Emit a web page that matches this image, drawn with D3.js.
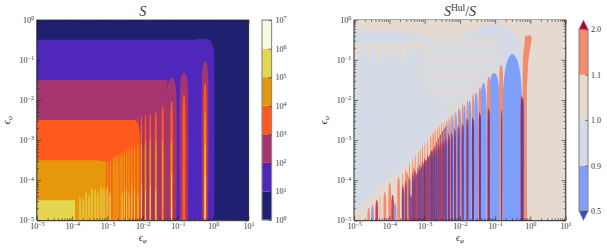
<!DOCTYPE html>
<html>
<head>
<meta charset="utf-8">
<script src="https://cdn.jsdelivr.net/npm/d3@7"></script>
<style>
  html, body { margin: 0; padding: 0; background: #fff; }
  svg { display: block; }
  text { font-family: "Liberation Serif", serif; fill: #333; }
</style>
</head>
<body>
<svg id="svg1" width="607" height="250"></svg>
<script>
// ---- data (exponents are log10 of the value) ----

// contour levels and colours of the two colourbars
var sLevels = [1, 1e1, 1e2, 1e3, 1e4, 1e5, 1e6, 1e7];
var sColors = ["#1f206f", "#4f28bb", "#a5356f", "#ff5a1e", "#e6980c", "#e4d650", "#f8f8dc"];
var ratioLevels = ["0.5", "0.9", "1.0", "1.1", "2.0"];
var ratioColors = ["#7f9ffc", "#d4dbe6", "#e6d9cf", "#f48b6b"];
var ratioUnder = "#3b4cc0", ratioOver = "#b40426", mauve = "#8d5f9e";

// resonance positions in eps_phi
var resPhi = [0.59, 0.148, 0.066, 0.037, 0.0236, 0.0164, 0.012, 0.0092, 0.0073, 0.0059,
  0.0049, 0.0041, 0.0035, 0.003, 0.0026, 0.0023, 0.002, 0.0018, 0.00163, 0.00148,
  0.00122, 0.00102, 0.00087, 0.00075, 0.00066, 0.00054, 0.00046, 0.00037, 0.00029, 0.00024];

// left panel: outline of the 10^1 region
var purplePhi = [1e-5, 0.126, 0.28, 0.5, 0.71, 0.83, 0.95, 1.07, 1.08, 1.08, 1e-5];
var purplePsi = [0.316, 0.316, 0.32, 0.34, 0.33, 0.30, 0.25, 0.16, 0.1, 1e-5, 1e-5];
// left panel: solid parts of the higher levels
var crimsonPhi = [1e-5, 0.05, 0.05, 1e-5], crimsonPsi = [0.0316, 0.0316, 1e-5, 1e-5];
var orangePhi = [1e-5, 0.0063, 0.0078, 0.0085, 0.0085, 1e-5];
var orangePsi = [0.00316, 0.00316, 0.0022, 0.0012, 1e-5, 1e-5];
var goldPhi = [1e-5, 0.0005, 0.0009, 0.0009, 1e-5];
var goldPsi = [0.000316, 0.000316, 0.00028, 1e-5, 1e-5];
var yellowPhi = [1e-5, 0.00012, 0.00012, 1e-5];
var yellowPsi = [3.16e-5, 3.16e-5, 1e-5, 1e-5];

// left panel: height of each level along the resonances
var crimsonTop = [-1.02, -1.31, -1.44];
var crimsonHalf = [0.085, 0.11, 0.13];
var orangeTop = [-1.55, -1.85, -2.02, -2.14, -2.26, -2.31, -2.34, -2.39, -2.44, -2.47];
var orangeHalf = [0.035, 0.04, 0.032, 0.028, 0.026, 0.024, 0.022, 0.02, 0.018, 0.016];
var goldTop = [-2.3, null, -3.0, -3.0, -3.0, -2.95, -3.0, -3.05, -3.1, -3.1, -3.15, -3.18, -3.22, -3.25,
  -3.3, -3.32, -3.35, -3.38, -3.4, -3.42, -3.45, -3.47, -3.48, -3.5];
var yellowTop = [-3.1, null, -3.8, null, -4.2, -4.1, -4.2, -4.1, -4.3, -4.2, -4.1, -4.3, -4.2, -4.2, -4.3];
var creamTop = [-3.9, null, -4.6];
// left panel: jagged yellow spikes past the solid part
var spikePhi = [0.000166, 0.000203, 0.000246, 0.0003, 0.00036, 0.00045, 0.00054, 0.00066, 0.00079, 0.00098, 0.00118];
var spikeTop = [-4.41, -4.45, -4.29, -4.38, -4.19, -4.22, -4.3, -4.16, -4.2, -4.16, -4.3];

// right panel: outline of the 0.9-1.0 region
var paleExp = [-5, -4.27, -3.42, -3.02, -2.56, -2.0, -1.45, -1.2, -0.86, -0.52, -0.29, -0.23, -0.23, -5];
var palePsi = [-0.25, -0.25, -0.3, -0.37, -0.42, -0.4, -0.2, -0.08, -0.12, -0.25, -0.5, -1.0, -5, -5];
// right panel: beige fingers hanging into it
var fingerExp = [-4.92, -4.59, -4.31, -4.07, -3.83, -3.6, -3.31, -3.03, -2.7];
var fingerTip = [-1.67, -1.17, -1.3, -1.07, -1.07, -1.17, -0.87, -0.82, -0.57];
var bandExp = [-5, -3, -3, -5], bandPsi = [-0.62, -0.62, -0.72, -0.72];
// right panel: fine horizontal rows in the upper part
var rowPsi = [-0.4, -0.48, -0.56, -0.64, -0.72, -0.8, -0.88, -0.96, -1.04, -1.12, -1.2, -1.28,
  -1.36, -1.44, -1.52, -1.6, -1.68, -1.76, -1.84, -1.92, -2.0, -2.08, -2.16, -2.24];
var rowStart = [-3.6, -3.4, -3.3, -3.2, -3.1, -3.2, -3.1, -3.0, -3.1, -3.2, -3.1, -3.2,
  -3.1, -3.2, -3.3, -3.2, -3.1, -3.0, -2.9, -2.8, -2.7, -2.6, -2.5, -2.4];
var rowEnd = [-0.95, -0.9, -0.85, -0.8, -0.85, -0.8, -0.8, -0.75, -0.8, -0.85, -0.9, -0.9,
  -0.95, -1.0, -1.05, -1.1, -1.15, -1.2, -1.25, -1.3, -1.35, -1.4, -1.45, -1.5];
// right panel: edge of the striped wedge
var wedgeExp = [-5.06, -4.13, -3.36, -2.93, -2.56, -2.25, -2.25, -5.06];
var wedgePsi = [-4.86, -4.06, -3.49, -2.99, -2.57, -2.3, -5, -5];
var mauveExp = [-3.36, -3.13, -2.85, -2.56, -2.37, -2.37, -3.36];
var mauvePsi = [-4.11, -3.74, -3.37, -2.87, -2.62, -5, -5];
// right panel: individual spikes at the low end of the wedge
var lowExp = [-4.84, -4.59, -4.48, -4.36, -4.27, -4.13, -3.99, -3.91, -3.84, -3.74, -3.6, -3.5, -3.39, -3.31, -3.22, -3.08, -3.0];
var lowTop = [-4.86, -4.69, -4.61, -4.49, -4.36, -4.29, -4.06, -4.36, -4.56, -3.92, -4.24, -3.79, -4.36, -3.67, -3.82, -3.67, -3.49];
var lowKind = ["pale", "salmon", "blue", "red", "pale", "salmon", "salmon", "red", "blue", "salmon", "blue", "salmon", "mauve", "salmon", "mauve", "mauve", "red"];
// right panel: blue lobes between resonances
var blueExp = [-0.51, -1.03, -1.33, -1.54, -1.72, -1.87, -2.0, -2.11, -2.2, -2.28, -2.34];
var blueTop = [-0.85, -1.32, -1.57, -1.8, -2.0, -2.12, -2.22, -2.32, -2.39, -2.47, -2.52];
var blueHalf = [0.27, 0.15, 0.085, 0.052, 0.047, 0.04, 0.036, 0.03, 0.028, 0.025, 0.022];
// right panel: salmon stripes on the resonances, index 0 is the curved one below
var salmonTop = [null, -1.12, -1.42, -1.67, -1.85, -2.0, -2.09, -2.19, -2.27, -2.34, -2.42, -2.49, -2.54, -2.57,
  -2.62, -2.67, -2.72, -2.77, -2.82, -2.87, -2.97, -3.05, -3.12, -3.2, -3.28, -3.36, -3.45, -3.55, -3.7, -3.8];
var salmonHalf = [null, 0.047, 0.043, 0.033, 0.028, 0.025, 0.022, 0.02, 0.018, 0.016];
var hookPhi = [0.6, 0.81, 0.79, 0.877, 1.1, 0.98, 0.71, 0.608];
var hookPsi = [1e-5, 1e-5, 0.018, 0.1, 0.355, 0.42, 0.39, 0.1];
// right panel: dark parts near the bottom of each resonance
var darkTop = [-1.9, -2.19, -2.19, -2.29, -2.42, -2.44, -2.57, -2.62, -2.69, -2.79, -2.82, -2.92, -2.99, -3.04,
  -3.08, -3.12, -3.16, -3.2, -3.24, -3.28, -3.36, -3.44, -3.52, -3.6, -3.66, -3.72, -3.8, -3.9, -4.0, -4.1];

var logTicks = [-5, -4, -3, -2, -1, 0, 1];
var psiTicks = [-5, -4, -3, -2, -1, 0];

// ---- layout ----
var svg = d3.select("#svg1");
var top0 = 19.8, bottom0 = 220.3, plotW = 211.4;
var line = d3.line().x(d => d[0]).y(d => d[1]);
var defs = svg.append("defs");

function minors(exps) {
  var out = [];
  exps.slice(0, -1).forEach(e => { for (var k = 2; k < 10; k++) out.push(k * Math.pow(10, e)); });
  return out;
}

function powerLabels(sel, exps) {
  sel.selectAll("text").attr("font-family", null).attr("font-size", 8).style("fill", "#333")
    .text("10").append("tspan").attr("dy", "-0.45em").attr("font-size", 6)
    .text(d => { var e = Math.round(Math.log10(d)); return (e < 0 ? "\u2212" : "") + Math.abs(e); });
}

function panel(left, id) {
  var x = d3.scaleLog().domain([1e-5, 10]).range([left, left + plotW]);
  var y = d3.scaleLog().domain([1e-5, 1]).range([bottom0, top0]);
  defs.append("clipPath").attr("id", id).append("rect")
    .attr("x", left).attr("y", top0).attr("width", plotW).attr("height", bottom0 - top0);
  var g = svg.append("g").attr("clip-path", "url(#" + id + ")");
  return {x: x, y: y, g: g, left: left};
}

// polygon from two arrays of real values
function poly(p, xs, ys, fill, opacity) {
  p.g.append("path")
    .attr("d", line(xs.map((v, i) => [p.x(v), p.y(ys[i])])) + "Z")
    .attr("fill", fill).attr("fill-opacity", opacity === undefined ? 1 : opacity);
}
// same, from exponents
function polyExp(p, xs, ys, fill, opacity) {
  poly(p, xs.map(v => Math.pow(10, v)), ys.map(v => Math.pow(10, v)), fill, opacity);
}

// rounded lobe standing on the bottom axis
function lobe(p, phi, top, half, shoulder, fill, opacity) {
  var c = Math.log10(phi), s = shoulder;
  var pts = [[c - half, -5.5], [c - half, top - s], [c - 0.72 * half, top - 0.35 * s], [c - 0.4 * half, top - 0.1 * s], [c, top],
    [c + 0.4 * half, top - 0.1 * s], [c + 0.72 * half, top - 0.35 * s], [c + half, top - s], [c + half, -5.5]];
  p.g.append("path")
    .attr("d", d3.line().curve(d3.curveCatmullRom)
      .x(d => p.x(Math.pow(10, d[0]))).y(d => p.y(Math.pow(10, d[1])))(pts) + "Z")
    .attr("fill", fill).attr("fill-opacity", opacity === undefined ? 1 : opacity);
}

function frame(p) {
  var ax = svg.append("g");
  var xMaj = logTicks.map(e => Math.pow(10, e)), yMaj = psiTicks.map(e => Math.pow(10, e));
  var xMin = minors(logTicks), yMin = minors(psiTicks);
  var h = bottom0, t = top0, r = p.left + plotW;

  var addTicks = function(gen, trans, vals, size) {
    var a = ax.append("g").attr("transform", trans).call(gen.tickValues(vals).tickSizeInner(-size).tickSizeOuter(0).tickPadding(3).tickFormat(""));
    a.select(".domain").remove();
    a.selectAll("line").attr("stroke", "#222").attr("stroke-width", 0.6);
    return a;
  };
  addTicks(d3.axisTop(p.x), `translate(0,${t})`, xMaj, 4);
  addTicks(d3.axisTop(p.x), `translate(0,${t})`, xMin, 2);
  addTicks(d3.axisRight(p.y), `translate(${r},0)`, yMaj, 4);
  addTicks(d3.axisRight(p.y), `translate(${r},0)`, yMin, 2);
  addTicks(d3.axisBottom(p.x), `translate(0,${h})`, xMin, 2);
  addTicks(d3.axisLeft(p.y), `translate(${p.left},0)`, yMin, 2);
  powerLabels(addTicks(d3.axisBottom(p.x), `translate(0,${h})`, xMaj, 4));
  powerLabels(addTicks(d3.axisLeft(p.y), `translate(${p.left},0)`, yMaj, 4));

  // spines, the top one falls between pixels and looks grey
  ax.append("line").attr("x1", p.left).attr("x2", r).attr("y1", t - 0.3).attr("y2", t - 0.3).attr("stroke", "#aaa").attr("stroke-width", 1);
  ax.append("line").attr("x1", p.left).attr("x2", r + 0.4).attr("y1", h + 0.4).attr("y2", h + 0.4).attr("stroke", "#222").attr("stroke-width", 1);
  ax.append("line").attr("x1", p.left - 0.2).attr("x2", p.left - 0.2).attr("y1", t).attr("y2", h).attr("stroke", "#222").attr("stroke-width", 1);
  ax.append("line").attr("x1", r + 0.2).attr("x2", r + 0.2).attr("y1", t).attr("y2", h).attr("stroke", "#222").attr("stroke-width", 1);

  // axis labels
  var cx = p.left + plotW / 2;
  var xl = svg.append("text").attr("x", cx).attr("y", 241).attr("text-anchor", "middle").attr("font-size", 10).attr("font-style", "italic").text("\u03f5");
  xl.append("tspan").attr("dy", 2).attr("font-size", 7).text("\u03c6");
  var yl = svg.append("text").attr("transform", `translate(${p.left - 27},120) rotate(-90)`).attr("text-anchor", "middle").attr("font-size", 10).attr("font-style", "italic").text("\u03f5");
  yl.append("tspan").attr("dy", 2).attr("font-size", 7).text("\u03c8");
}

// ---- left panel ----
var a = panel(37, "clipA");
a.g.append("rect").attr("x", 37).attr("y", top0).attr("width", plotW).attr("height", bottom0 - top0).attr("fill", sColors[0]);
poly(a, purplePhi, purplePsi, sColors[1]);
poly(a, crimsonPhi, crimsonPsi, sColors[2]);
crimsonTop.forEach((t, i) => lobe(a, resPhi[i], t, crimsonHalf[i], 0.35, sColors[2]));
poly(a, orangePhi, orangePsi, sColors[3]);
orangeTop.forEach((t, i) => lobe(a, resPhi[i], t, orangeHalf[i], 0.3, sColors[3]));
poly(a, goldPhi, goldPsi, sColors[4]);
goldTop.forEach((t, i) => { if (t !== null) lobe(a, resPhi[i], t, 0.018, 0.2, sColors[4]); });
poly(a, yellowPhi, yellowPsi, sColors[5]);
spikePhi.forEach((v, i) => lobe(a, v, spikeTop[i], 0.03, 0.1, sColors[5], 0.6));
yellowTop.forEach((t, i) => { if (t !== null) lobe(a, resPhi[i], t, 0.011, 0.2, sColors[5]); });
creamTop.forEach((t, i) => { if (t !== null) lobe(a, resPhi[i], t, 0.007, 0.2, sColors[6]); });
frame(a);

// ---- right panel ----
var b = panel(354.2, "clipB");
b.g.append("rect").attr("x", 354.2).attr("y", top0).attr("width", plotW).attr("height", bottom0 - top0).attr("fill", ratioColors[2]);
polyExp(b, paleExp, palePsi, ratioColors[1]);
polyExp(b, bandExp, bandPsi, ratioColors[2]);
fingerExp.forEach((e, i) => polyExp(b, [e - 0.09, e + 0.09, e], [-0.6, -0.6, fingerTip[i]], ratioColors[2]));
rowPsi.forEach((r, i) => polyExp(b, [rowStart[i], rowEnd[i], rowEnd[i], rowStart[i]], [r, r, r - 0.04, r - 0.04], ratioColors[2], 0.7));
polyExp(b, wedgeExp, wedgePsi, ratioColors[2]);
var lowColor = {pale: "#ecc4b4", salmon: ratioColors[3], red: "#d0404a", blue: "#8a9fe8", mauve: mauve};
lowExp.forEach((e, i) => lobe(b, Math.pow(10, e), lowTop[i], 0.035, 0.2, lowColor[lowKind[i]]));
polyExp(b, mauveExp, mauvePsi, mauve);
blueExp.forEach((e, i) => lobe(b, Math.pow(10, e), blueTop[i], blueHalf[i], i === 0 ? 1.0 : 0.5, ratioColors[0]));
poly(b, hookPhi, hookPsi, ratioColors[3]);
salmonTop.forEach((t, i) => { if (t !== null) lobe(b, resPhi[i], t, salmonHalf[i] || 0.014, 0.2, ratioColors[3]); });
darkTop.forEach((t, i) => {
  var half = i === 0 ? 0.03 : (i < 8 ? 0.018 : 0.014);
  if (i !== 1) lobe(b, resPhi[i] * 0.97, t, half, 0.2, "#c8202f");
  lobe(b, resPhi[i] * 1.035, t - 0.05, half * 0.8, 0.2, ratioUnder);
});
frame(b);

// ---- colourbars ----
var cbS = d3.scaleLog().domain([1, 1e7]).range([220, 20]);
sColors.forEach((c, i) => {
  svg.append("rect").attr("x", 262).attr("width", 9.6)
    .attr("y", cbS(sLevels[i + 1])).attr("height", cbS(sLevels[i]) - cbS(sLevels[i + 1])).attr("fill", c);
});
svg.append("rect").attr("x", 262).attr("y", 20).attr("width", 9.6).attr("height", 200).attr("fill", "none").attr("stroke", "#888").attr("stroke-width", 1.1);
var cbSAxis = svg.append("g").attr("transform", "translate(271.6,0)")
  .call(d3.axisRight(cbS).tickValues(sLevels).tickSizeInner(-3).tickSizeOuter(0).tickPadding(4));
cbSAxis.select(".domain").remove();
cbSAxis.selectAll("line").attr("stroke", "#333").attr("stroke-width", 0.6);
powerLabels(cbSAxis);

var cbR = d3.scalePoint().domain(ratioLevels).range([211, 29.3]);
ratioColors.forEach((c, i) => {
  svg.append("rect").attr("x", 579).attr("width", 9)
    .attr("y", cbR(ratioLevels[i + 1])).attr("height", cbR(ratioLevels[i]) - cbR(ratioLevels[i + 1])).attr("fill", c);
});
svg.append("rect").attr("x", 579).attr("y", cbR("2.0")).attr("width", 9).attr("height", cbR("0.5") - cbR("2.0")).attr("fill", "none").attr("stroke", "#888").attr("stroke-width", 1.1);
svg.append("path").attr("d", line([[579, cbR("2.0")], [588, cbR("2.0")], [583.5, 20]]) + "Z").attr("fill", ratioOver).attr("stroke", "#888").attr("stroke-width", 0.5);
svg.append("path").attr("d", line([[579, cbR("0.5")], [588, cbR("0.5")], [583.5, 220.5]]) + "Z").attr("fill", ratioUnder).attr("stroke", "#888").attr("stroke-width", 0.5);
var cbRAxis = svg.append("g").attr("transform", "translate(588,0)")
  .call(d3.axisRight(cbR).tickSizeInner(-3).tickSizeOuter(0).tickPadding(3));
cbRAxis.select(".domain").remove();
cbRAxis.selectAll("line").attr("stroke", "#333").attr("stroke-width", 0.6);
cbRAxis.selectAll("text").attr("font-family", null).attr("font-size", 8).style("fill", "#333");

// ---- titles ----
svg.append("text").attr("x", 142.7).attr("y", 16).attr("text-anchor", "middle").attr("font-size", 14).attr("font-style", "italic").text("S");
var tt = svg.append("text").attr("x", 460).attr("y", 16).attr("text-anchor", "middle").attr("font-size", 14);
tt.append("tspan").attr("font-style", "italic").text("S");
tt.append("tspan").attr("dy", -5).attr("font-size", 9.5).text("Hul");
tt.append("tspan").attr("dy", 5).text("/");
tt.append("tspan").attr("font-style", "italic").text("S");
</script>
</body>
</html>
